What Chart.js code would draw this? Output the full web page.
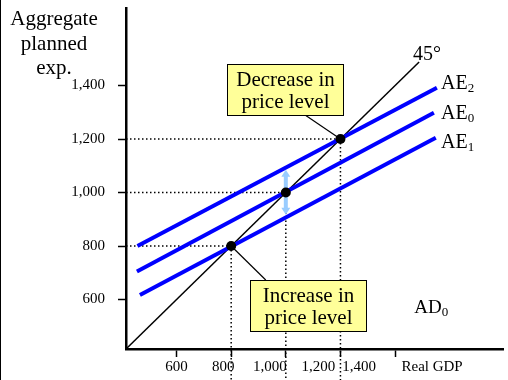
<!DOCTYPE html>
<html>
<head>
<meta charset="utf-8">
<script src="https://cdn.jsdelivr.net/npm/chart.js@4.4.1/dist/chart.umd.min.js"></script>
<style>
  html, body { margin: 0; padding: 0; background: #fff; }
  #wrap { position: relative; width: 508px; height: 380px; }
  #wrap::before { content: ''; position: absolute; left: 0; top: 0; width: 1px; height: 380px; background: #000; }
  canvas { display: block; }
</style>
</head>
<body>
<div id="wrap"><canvas id="chart" width="508" height="380"></canvas></div>
<script>
// Axis ticks
const gdpTicks = [600, 800, 1000, 1200, 1400];
const expTicks = [600, 800, 1000, 1200, 1400];

// Aggregate expenditure lines, [real GDP, planned expenditure] at each end
const ae2 = [[457, 800], [1553, 1392]];
const ae0 = [[455, 705], [1542, 1298]];
const ae1 = [[466, 617], [1549, 1205]];
// 45-degree reference line
const line45 = [[415, 415], [1488, 1488]];
// Equilibrium points for AE1, AE0, AE2
const equilibria = [[800, 800], [1000, 1000], [1200, 1200]];
// Shift of AE at real GDP 1,000 (from AE1 up to AE2)
const aeShift = [1000, 917, 1085];

const X_MIN = 415, X_MAX = 1795, Y_MIN = 415, Y_MAX = 1690;
const GUIDE_FLOOR = 290;          // vertical guides run on under the tick labels
const SERIF = '"Liberation Serif", "Times New Roman", serif';

const toPts = a => a.map(([x, y]) => ({ x, y }));

const dotStyle = {
  showLine: true, borderColor: '#000', borderWidth: 1.5, borderDash: [1.5, 2.5],
  pointRadius: 0, clip: false, order: 5
};
const guideSets = [];
equilibria.forEach(([x, y]) => {
  guideSets.push({ ...dotStyle, data: toPts([[X_MIN, y], [x, y]]) });
  guideSets.push({ ...dotStyle, data: toPts([[x, y], [x, GUIDE_FLOOR]]) });
});

const blueLine = pts => ({
  data: toPts(pts), showLine: true, borderColor: '#0000ff', borderWidth: 4,
  pointRadius: 0, borderCapStyle: 'butt', order: 3
});

// Callout boxes: top-left corner in data units, tail joins the box to a point
const callouts = [
  { lines: ['Decrease in', 'price level'], at: [785, 1481], target: equilibria[2], tailSide: 'bottom', tailDx: 78 },
  { lines: ['Increase in', 'price level'], at: [868, 673], target: equilibria[0], tailSide: 'top', tailDx: 16 }
];
const BOX_W = 116, BOX_H = 51;

// Free text placed in data units (left edge, baseline)
const texts = [
  { main: '45°', at: [1466, 1496], size: 20 },
  { main: 'AE', sub: '2', at: [1568, 1387], size: 20 },
  { main: 'AE', sub: '0', at: [1568, 1275], size: 20 },
  { main: 'AE', sub: '1', at: [1568, 1166], size: 20 },
  { main: 'AD', sub: '0', at: [1470, 550], size: 19 }
];

// x tick labels sit slightly left of their marks toward the right end
const gdpLabelNudge = [0, -8, -16, -22, -36];

const fmt = v => v.toLocaleString('en-US');

const overlay = {
  id: 'overlay',
  beforeDatasetDraw(chart, args) {
    if (args.index !== 0) return;   // under the equilibrium dots
    const { ctx, scales: { x, y } } = chart;
    ctx.save();
    // leader lines from callouts
    ctx.strokeStyle = '#000'; ctx.lineWidth = 1.2;
    callouts.forEach(c => {
      const bx = x.getPixelForValue(c.at[0]), by = y.getPixelForValue(c.at[1]);
      const sx = bx + c.tailDx, sy = c.tailSide === 'bottom' ? by + BOX_H : by;
      ctx.beginPath();
      ctx.moveTo(sx, sy);
      ctx.lineTo(x.getPixelForValue(c.target[0]), y.getPixelForValue(c.target[1]));
      ctx.stroke();
    });
    // double-headed shift arrow
    const ax = x.getPixelForValue(aeShift[0]);
    const yb = y.getPixelForValue(aeShift[1]), yt = y.getPixelForValue(aeShift[2]);
    ctx.strokeStyle = ctx.fillStyle = '#99ccff';
    ctx.lineWidth = 4;
    ctx.beginPath(); ctx.moveTo(ax, yt + 5); ctx.lineTo(ax, yb - 5); ctx.stroke();
    ctx.beginPath(); ctx.moveTo(ax, yt); ctx.lineTo(ax - 4.5, yt + 7); ctx.lineTo(ax + 4.5, yt + 7); ctx.closePath(); ctx.fill();
    ctx.beginPath(); ctx.moveTo(ax, yb); ctx.lineTo(ax - 4.5, yb - 7); ctx.lineTo(ax + 4.5, yb - 7); ctx.closePath(); ctx.fill();
    ctx.restore();
  },
  afterDatasetsDraw(chart) {
    const { ctx, scales: { x, y }, chartArea } = chart;
    ctx.save();
    ctx.fillStyle = '#000';
    // vertical axis title
    ctx.font = `21px ${SERIF}`;
    ctx.textAlign = 'center'; ctx.textBaseline = 'alphabetic';
    ['Aggregate', 'planned', 'exp.'].forEach((t, i) => ctx.fillText(t, 54, 25 + i * 24.5));
    // x tick labels and axis name
    ctx.font = `15px ${SERIF}`;
    ctx.textBaseline = 'middle';
    gdpTicks.forEach((v, i) => ctx.fillText(fmt(v), x.getPixelForValue(v) + gdpLabelNudge[i], chartArea.bottom + 18));
    ctx.fillText('Real GDP', x.getPixelForValue(1400) + 37, chartArea.bottom + 18);
    // curve labels
    ctx.textAlign = 'left'; ctx.textBaseline = 'alphabetic';
    texts.forEach(t => {
      const px = x.getPixelForValue(t.at[0]), py = y.getPixelForValue(t.at[1]);
      ctx.font = `${t.size}px ${SERIF}`;
      ctx.fillText(t.main, px, py);
      if (t.sub) {
        const w = ctx.measureText(t.main).width;
        ctx.font = `13px ${SERIF}`;
        ctx.fillText(t.sub, px + w, py + 3);
      }
    });
    // callout boxes
    callouts.forEach(c => {
      const bx = Math.round(x.getPixelForValue(c.at[0])) + 0.5, by = Math.round(y.getPixelForValue(c.at[1])) + 0.5;
      ctx.fillStyle = '#ffff99'; ctx.strokeStyle = '#000'; ctx.lineWidth = 1;
      ctx.fillRect(bx, by, BOX_W, BOX_H); ctx.strokeRect(bx, by, BOX_W, BOX_H);
      ctx.fillStyle = '#000'; ctx.font = `21px ${SERIF}`; ctx.textAlign = 'center';
      c.lines.forEach((t, i) => ctx.fillText(t, bx + BOX_W / 2, by + 21 + i * 22.5));
    });
    ctx.restore();
  }
};

new Chart(document.getElementById('chart'), {
  type: 'scatter',
  data: {
    datasets: [
      { data: toPts(equilibria), pointRadius: 5, pointBackgroundColor: '#000', pointBorderColor: '#000', pointBorderWidth: 0, showLine: false, order: 0, clip: false },
      blueLine(ae2), blueLine(ae0), blueLine(ae1),
      { data: toPts(line45), showLine: true, borderColor: '#000', borderWidth: 1.5, pointRadius: 0, order: 4 },
      ...guideSets
    ]
  },
  options: {
    responsive: false, animation: false, events: [],
    layout: { padding: { top: 8, right: 0, left: 0, bottom: 0 } },
    plugins: { legend: { display: false }, tooltip: { enabled: false } },
    scales: {
      x: {
        type: 'linear', min: X_MIN, max: X_MAX,
        afterBuildTicks: s => { s.ticks = gdpTicks.map(v => ({ value: v })); },
        afterFit: s => { s.height = 31; s.paddingLeft = 0; s.paddingRight = 0; },
        ticks: { display: false },
        grid: { drawOnChartArea: false, drawTicks: true, tickLength: 8, tickWidth: 1.5, tickColor: '#000' },
        border: { display: true, color: '#000', width: 2.5 }
      },
      y: {
        type: 'linear', min: Y_MIN, max: Y_MAX,
        afterBuildTicks: s => { s.ticks = expTicks.map(v => ({ value: v })); },
        afterFit: s => { s.width = 126; s.paddingTop = 0; s.paddingBottom = 0; },
        ticks: { color: '#000', padding: 13, font: { family: SERIF, size: 15 }, callback: v => fmt(v) },
        grid: { drawOnChartArea: false, drawTicks: true, tickLength: 8, tickWidth: 1.5, tickColor: '#000' },
        border: { display: true, color: '#000', width: 2.5 }
      }
    }
  },
  plugins: [overlay]
});
</script>
</body>
</html>
